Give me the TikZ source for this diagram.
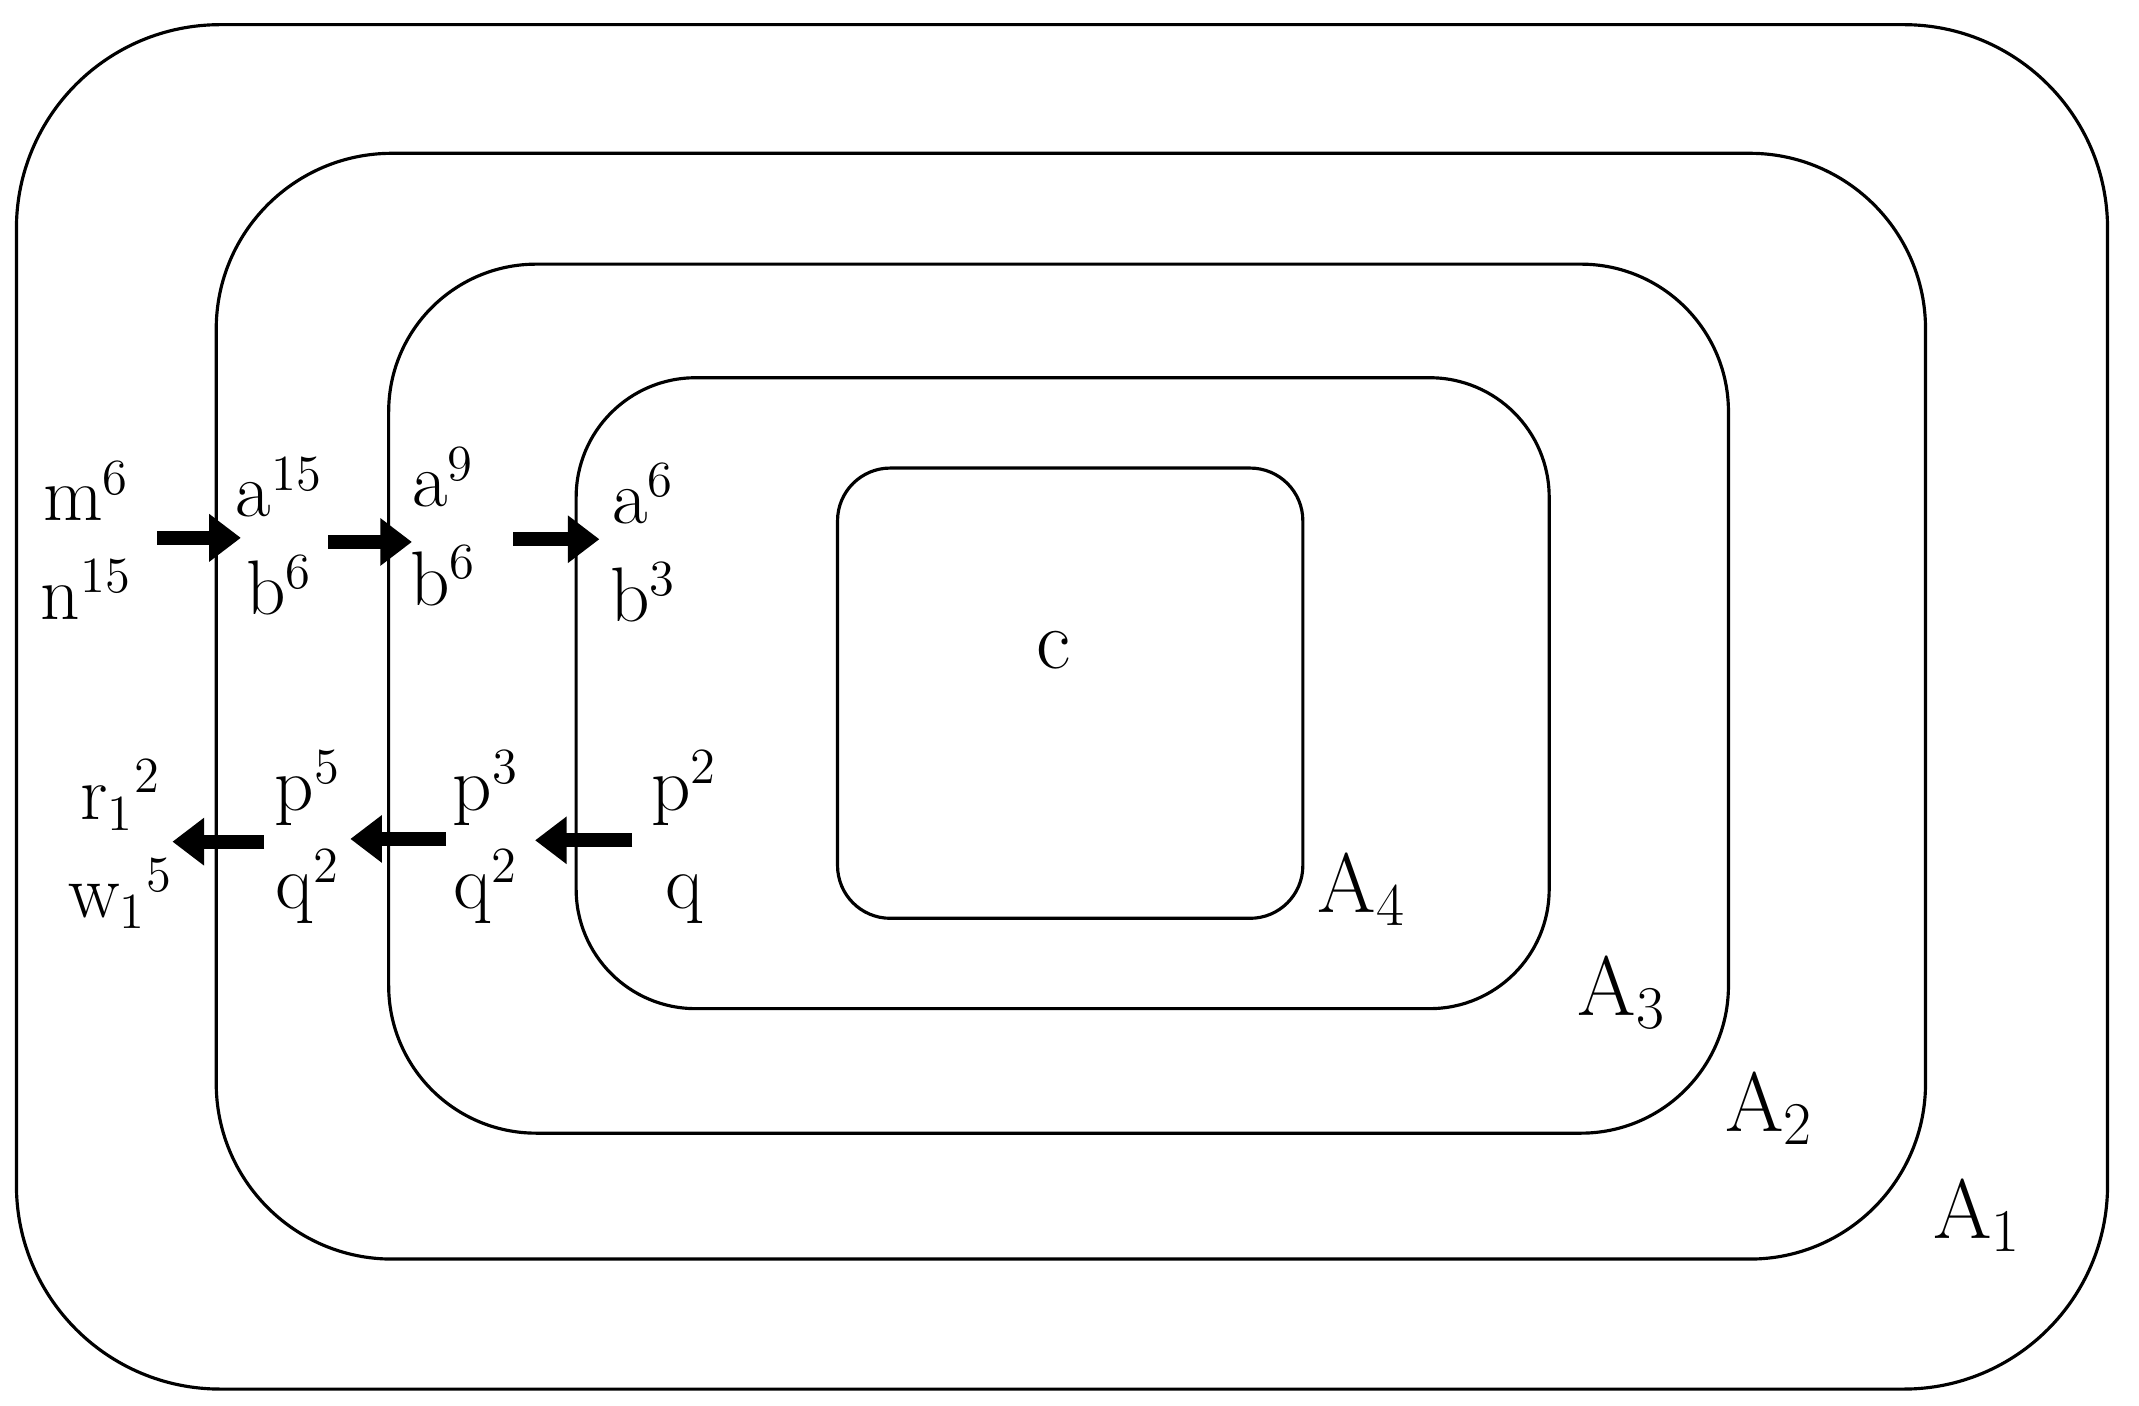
\documentclass[tikz,border=0pt]{standalone}
\usetikzlibrary{arrows.meta}
\begin{document}
\begin{tikzpicture}[x=0.013685cm,y=-0.013685cm,
  box/.style={draw,line width=0.9pt},
  lbl/.style={font=\fontsize{22}{24}\selectfont,inner sep=0pt,align=center},
  big/.style={font=\fontsize{24}{26}\selectfont,inner sep=0pt},
  fat/.style={line width=4pt,-{Triangle[length=9pt,width=13pt]}}]
\useasboundingbox (0,0) rectangle (1563,1027);
\draw[box,rounded corners=58pt] (12,18) rectangle (1540,1015);
\draw[box,rounded corners=50pt] (158,112) rectangle (1407,920);
\draw[box,rounded corners=42pt] (284,193) rectangle (1263,828);
\draw[box,rounded corners=34pt] (421,276) rectangle (1132,737);
\draw[box,rounded corners=15pt] (612,342) rectangle (952,671);
\node[big] (c) at (770,475) {c};
\node[big] (a4) at (995,650) {A$_4$};
\node[big] (a3) at (1185,725) {A$_3$};
\node[big] (a2) at (1293,810) {A$_2$};
\node[big] (a1) at (1445,888) {A$_1$};
\node[lbl] (mn) at (63,395) {m$^6$\\[4pt]n$^{15}$};
\node[lbl] (ab1) at (204,392) {a$^{15}$\\[4pt]b$^6$};
\node[lbl] (ab2) at (324,385) {a$^9$\\[4pt]b$^6$};
\node[lbl] (ab3) at (470,397) {a$^6$\\[4pt]b$^3$};
\node[lbl] (rw) at (88,617) {r$_1{}^2$\\[4pt]w$_1{}^5$};
\node[lbl] (pq1) at (225,612) {p$^5$\\[4pt]q$^2$};
\node[lbl] (pq2) at (355,612) {p$^3$\\[4pt]q$^2$};
\node[lbl] (pq3) at (500,612) {p$^2$\\[4pt]q};
\coordinate (r1s) at (115,393); \coordinate (r1e) at (176,393);
\coordinate (r2s) at (240,396); \coordinate (r2e) at (301,396);
\coordinate (r3s) at (375,394); \coordinate (r3e) at (438,394);
\coordinate (l1s) at (193,615); \coordinate (l1e) at (126,615);
\coordinate (l2s) at (326,613); \coordinate (l2e) at (256,613);
\coordinate (l3s) at (462,614); \coordinate (l3e) at (391,614);
\draw[fat] (r1s) -- (r1e);
\draw[fat] (r2s) -- (r2e);
\draw[fat] (r3s) -- (r3e);
\draw[fat] (l1s) -- (l1e);
\draw[fat] (l2s) -- (l2e);
\draw[fat] (l3s) -- (l3e);
\end{tikzpicture}
\end{document}
